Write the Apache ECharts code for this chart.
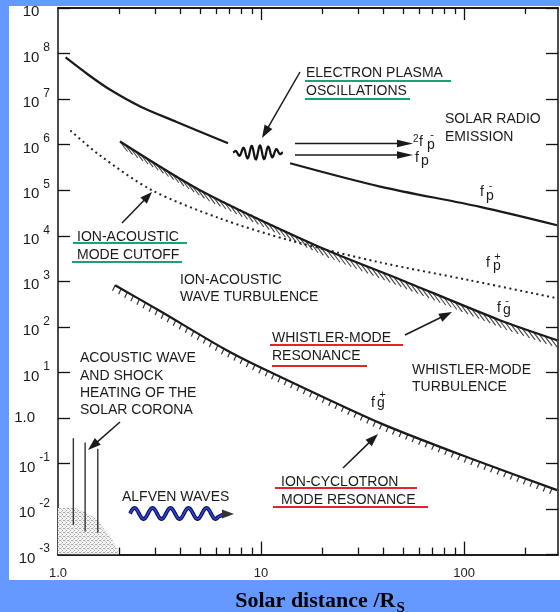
<!DOCTYPE html>
<html><head><meta charset="utf-8">
<script src="https://cdn.jsdelivr.net/npm/echarts@6/dist/echarts.min.js"></script>
<style>html,body{margin:0;padding:0;background:#6699ff;}#c{width:560px;height:612px;}</style>
</head><body><div id="c"></div>
<script>
// ---------- data ----------
const xTickValues = [1, 10, 100];
const xMajorTicks = [10, 100];
const xMinorTicks = [2, 3, 4, 5, 6, 7, 8, 9, 20, 30, 40, 50, 60, 70, 80, 90, 200];
const yTickValues = [1e-3, 1e-2, 1e-1, 1, 1e1, 1e2, 1e3, 1e4, 1e5, 1e6, 1e7, 1e8, 1e9];
// f_p^- (electron plasma frequency), broken around the wave symbol
const fpMinusNear = [[1.09, 8.2e7], [1.405, 3.47e7], [1.8, 1.62e7], [2.54, 6.9e6], [3.84, 3.15e6], [6.88, 1.07e6]];
const fpMinusFar = [[13.9, 3.9e5], [38.6, 1.2e5], [120, 4.3e4], [287, 1.7e4]];
// f_p^+ (ion-acoustic mode cutoff, dotted)
const fpPlus = [[1.15, 2.05e6], [1.61, 5.8e5], [2.9, 1.0e5], [6.28, 2.4e4], [13.9, 7.9e3], [38.6, 2.6e3], [107, 1.05e3], [287, 424]];
// f_g^- (whistler-mode resonance)
const fgMinus = [[2.02, 1.17e6], [5.0, 1.0e5], [19.5, 5.6e3], [48.4, 1.1e3], [150, 140], [287, 51]];
// f_g^+ (ion-cyclotron resonance)
const fgPlus = [[1.91, 817], [3.18, 223], [6.5, 34], [9.9, 13], [38.6, 0.77], [107, 0.13], [287, 0.026]];
// acoustic-wave spikes: [r, top, bottom]
const acousticSpikes = [[1.19, 0.36, 0.0045], [1.36, 0.29, 0.0032], [1.57, 0.21, 0.003]];
// stippled region near the Sun
const coronaHeating = [[1.0, 0.0105], [1.21, 0.0105], [1.36, 0.0086], [1.52, 0.0064], [1.65, 0.0042], [1.80, 0.0026], [1.93, 0.00155], [2.0, 0.001]];

// ---------- helpers ----------
const FONT = "'Liberation Sans', Arial, sans-serif";
const INK = '#1a1a1a';
const GREEN = '#17a374';
const RED = '#e3242b';

function txt(s, x, y, size, extra) {
  const st = {text: s, fontSize: size || 14, fontFamily: FONT, fill: INK,
    textAlign: 'left', textVerticalAlign: 'middle', align: 'left', verticalAlign: 'middle'};
  if (extra) Object.assign(st, extra);
  return {type: 'text', x: x, y: y, z: 50, style: st};
}
function uline(x1, x2, y, c) {
  return {type: 'line', z: 50, shape: {x1: x1, y1: y, x2: x2, y2: y}, style: {stroke: c, lineWidth: 2}};
}
function arrow(x1, y1, x2, y2, head, w, color) {
  color = color || INK;
  const dx = x2 - x1, dy = y2 - y1, L = Math.hypot(dx, dy), ux = dx / L, uy = dy / L;
  const bx = x2 - ux * head, by = y2 - uy * head;
  return [
    {type: 'line', z: 50, shape: {x1: x1, y1: y1, x2: bx + ux, y2: by + uy}, style: {stroke: color, lineWidth: 1.5}},
    {type: 'polygon', z: 50, shape: {points: [[x2, y2], [bx - uy * w, by + ux * w], [bx + uy * w, by - ux * w]]}, style: {fill: color}}
  ];
}
function hatch(curve, spacing, dx, dy, width, color) {
  return function (params, api) {
    if (params.dataIndex !== 0) return null;
    const pts = curve.map(p => api.coord(p));
    const children = [];
    let carry = 0;
    for (let i = 0; i < pts.length - 1; i++) {
      const x0 = pts[i][0], y0 = pts[i][1], x1 = pts[i + 1][0], y1 = pts[i + 1][1];
      const seg = Math.hypot(x1 - x0, y1 - y0);
      let s = carry;
      while (s < seg) {
        const t = s / seg, x = x0 + (x1 - x0) * t, y = y0 + (y1 - y0) * t;
        children.push({type: 'line', shape: {x1: x, y1: y, x2: x + dx, y2: y + dy}, style: {stroke: color, lineWidth: width}});
        s += spacing;
      }
      carry = s - seg;
    }
    return {type: 'group', children: children};
  };
}
function spike(params, api) {
  const a = api.coord([api.value(0), api.value(1)]);
  const b = api.coord([api.value(0), api.value(2)]);
  return {type: 'line', shape: {x1: a[0], y1: a[1], x2: b[0], y2: b[1]}, style: {stroke: '#333', lineWidth: 1.4}};
}
function fLabel(fx, fy, sub, sx, sy, sup, ux, uy) {
  const out = [txt('f', fx, fy, 14), txt(sub, sx, sy, 14)];
  if (sup) out.push(txt(sup, ux, uy, 11, {textAlign: 'center', align: 'center'}));
  return out;
}
function wavePacket() {
  const pts = [];
  for (let x = 233; x <= 283; x += 0.5) {
    const t = (x - 233) / 50;
    const env = Math.pow(Math.sin(Math.PI * t), 0.8);
    pts.push([x, 152.5 - 7 * env * Math.sin(2 * Math.PI * (x - 233) / 8.3)]);
  }
  return pts;
}
function alfven() {
  const pts = [];
  for (let x = 130; x <= 218; x += 0.5) pts.push([x, 513.5 - 5.5 * Math.sin(2 * Math.PI * (x - 130) / 18)]);
  pts.push([224, 514]);
  return pts;
}

// stipple pattern
const pat = document.createElement('canvas');
pat.width = 4; pat.height = 4;
const pg = pat.getContext('2d');
pg.fillStyle = '#f3f3f3'; pg.fillRect(0, 0, 4, 4);
pg.fillStyle = '#a6a6a6';
pg.fillRect(0, 0, 1, 1); pg.fillRect(2, 2, 1, 1); pg.fillRect(3, 0, 1, 1);
pg.fillStyle = '#cfcfcf';
pg.fillRect(1, 3, 1, 1); pg.fillRect(1, 1, 1, 1);

// ---------- chart ----------
const chart = echarts.init(document.getElementById('c'), null, {renderer: 'canvas', width: 560, height: 612});
const axLine = {show: true, onZero: false, lineStyle: {color: '#111', width: 1.5}};
const xBase = {type: 'log', logBase: 10, min: 1, max: 290, splitLine: {show: false}, axisLine: axLine};
const yBase = {type: 'log', logBase: 10, min: 1e-3, max: 1e9, splitLine: {show: false}, axisLine: axLine};
const tickStyle = {color: '#111', width: 1.3};

const graphics = [
  {type: 'rect', z: -100, shape: {x: 9, y: 6, width: 551, height: 574}, style: {fill: '#ffffff'}},
  {type: 'rect', z: 100, shape: {x: 0, y: 0, width: 560, height: 6}, style: {fill: '#6699ff'}},
  // texts
  txt('ELECTRON PLASMA', 306, 73), txt('OSCILLATIONS', 306, 91),
  txt('SOLAR RADIO', 445, 119), txt('EMISSION', 445, 137),
  txt('ION-ACOUSTIC', 77, 237), txt('MODE CUTOFF', 77, 255),
  txt('ION-ACOUSTIC', 180, 280), txt('WAVE TURBULENCE', 180, 297),
  txt('WHISTLER-MODE', 272, 338), txt('RESONANCE', 272, 356),
  txt('WHISTLER-MODE', 412, 370), txt('TURBULENCE', 412, 387),
  txt('ION-CYCLOTRON', 281, 482), txt('MODE RESONANCE', 281, 500),
  txt('ACOUSTIC WAVE', 80, 358), txt('AND SHOCK', 80, 376), txt('HEATING OF THE', 80, 393), txt('SOLAR CORONA', 80, 410),
  txt('ALFVEN WAVES', 122, 497),
  // underlines
  uline(305, 451, 81, GREEN), uline(305, 410, 99, GREEN),
  uline(73, 187, 243, GREEN), uline(72, 182, 262, GREEN),
  uline(270, 403, 345, RED), uline(272, 367, 366, RED),
  uline(275, 417, 488, RED), uline(273, 428, 507, RED),
  // wave symbols
  {type: 'polyline', z: 50, shape: {points: wavePacket()}, style: {stroke: '#111', lineWidth: 2.2, fill: null}},
  {type: 'polyline', z: 50, shape: {points: alfven()}, style: {stroke: '#0b0b3a', lineWidth: 3.8, fill: null}},
  {type: 'polyline', z: 51, shape: {points: alfven()}, style: {stroke: '#2b45ff', lineWidth: 1.6, fill: null}},
  {type: 'polygon', z: 51, shape: {points: [[222, 509.5], [222, 518.5], [234, 514]]}, style: {fill: '#333'}},
  // axis title
  {type: 'text', x: 320, y: 590, z: 50, style: {
    text: '{a|Solar distance /R}{b|S}', textAlign: 'center', align: 'center', fill: '#000',
    rich: {a: {fontSize: 22, fontWeight: 'bold', fontFamily: "'Liberation Serif', 'Times New Roman', serif", fill: '#000', lineHeight: 22, verticalAlign: 'top'},
           b: {fontSize: 15, fontWeight: 'bold', fontFamily: "'Liberation Serif', 'Times New Roman', serif", fill: '#000', padding: [11, 0, 0, 1], verticalAlign: 'top'}}
  }}
]
  .concat(arrow(300, 72, 262, 138, 13, 4.5))
  .concat(arrow(295, 143.5, 413, 143.5, 16, 3.8))
  .concat(arrow(295, 155, 413, 155, 16, 3.8))
  .concat(arrow(122, 223, 152, 192, 12, 4.5))
  .concat(arrow(405, 335, 452, 312, 13, 4.5))
  .concat(arrow(343, 468, 378, 434, 13, 4.5))
  .concat(arrow(120, 422, 88, 450, 13, 4.5))
  .concat([txt('2', 413, 139.5, 10)])
  .concat(fLabel(419, 142, 'p', 427, 145, '-', 432, 135))
  .concat(fLabel(415, 158, 'p', 421, 161))
  .concat(fLabel(480, 192, 'p', 486, 196, '-', 490.5, 186))
  .concat(fLabel(486, 263, 'p', 493, 266, '+', 497.5, 257))
  .concat(fLabel(497, 308, 'g', 503, 310, '-', 507, 301))
  .concat(fLabel(371, 403, 'g', 377, 403, '+', 382.5, 395));

const option = {
  backgroundColor: '#6699ff',
  animation: false,
  grid: {left: 58, top: 8, right: 2, bottom: 57.4, containLabel: false, outerBoundsMode: 'none'},
  xAxis: [
    Object.assign({}, xBase, {position: 'bottom',
      axisTick: {show: true, inside: true, length: 13, lineStyle: tickStyle, customValues: xMajorTicks},
      axisLabel: {show: true, customValues: xTickValues, margin: 12, fontSize: 13, fontFamily: FONT, color: '#222',
        formatter: function (v) { return Math.abs(v - 1) < 1e-9 ? '1.0' : String(Math.round(v)); }}}),
    Object.assign({}, xBase, {position: 'bottom',
      axisTick: {show: true, inside: true, length: 7, lineStyle: tickStyle, customValues: xMinorTicks},
      axisLabel: {show: false}}),
    Object.assign({}, xBase, {position: 'top',
      axisTick: {show: true, inside: true, length: 12, lineStyle: tickStyle, customValues: xMajorTicks},
      axisLabel: {show: false}}),
    Object.assign({}, xBase, {position: 'top',
      axisTick: {show: true, inside: true, length: 6, lineStyle: tickStyle, customValues: xMinorTicks},
      axisLabel: {show: false}})
  ],
  yAxis: [
    Object.assign({}, yBase, {position: 'left',
      axisTick: {show: true, inside: true, length: 12, lineStyle: tickStyle, customValues: yTickValues},
      axisLabel: {show: true, customValues: yTickValues, margin: 8,
        formatter: function (v) {
          const e = Math.round(Math.log10(v));
          return e === 0 ? '{one|1.0}' : '{b|10}{s|' + e + '}';
        },
        rich: {
          b: {fontSize: 15, fontFamily: FONT, color: INK, padding: [8, 0, 0, 0], verticalAlign: 'bottom'},
          s: {fontSize: 12, fontFamily: FONT, color: INK, padding: [0, 0, 0, 4], verticalAlign: 'top'},
          one: {fontSize: 15, fontFamily: FONT, color: INK, padding: [0, 15, 0, 0]}
        }}}),
    Object.assign({}, yBase, {position: 'right',
      axisTick: {show: true, inside: true, length: 12, lineStyle: tickStyle, customValues: yTickValues},
      axisLabel: {show: false}})
  ],
  graphic: {elements: graphics},
  series: [
    {type: 'line', data: coronaHeating, symbol: 'none', silent: true, z: 1,
      lineStyle: {width: 0}, areaStyle: {color: {image: pat, repeat: 'repeat'}, opacity: 1, origin: 'start'}},
    {type: 'line', data: fpMinusNear, symbol: 'none', smooth: 0.3, lineStyle: {color: INK, width: 2.2}},
    {type: 'line', data: fpMinusFar, symbol: 'none', smooth: 0.3, lineStyle: {color: INK, width: 2.2}},
    {type: 'line', data: fpPlus, symbol: 'none', smooth: 0.3, lineStyle: {color: '#222', width: 2, type: [2, 3.5]}},
    {type: 'line', data: fgMinus, symbol: 'none', smooth: 0.25, lineStyle: {color: INK, width: 2.2}},
    {type: 'line', data: fgPlus, symbol: 'none', smooth: 0.25, lineStyle: {color: INK, width: 2.2}},
    {type: 'custom', data: fgMinus, encode: {x: 0, y: 1}, clip: true, renderItem: hatch(fgMinus, 6, 7.5, 10, 1.1, '#444')},
    {type: 'custom', data: fgPlus, encode: {x: 0, y: 1}, clip: true, renderItem: hatch(fgPlus, 7, -2.5, 5.5, 1.2, '#333')},
    {type: 'custom', data: acousticSpikes, encode: {x: 0, y: [1, 2]}, renderItem: spike}
  ]
};
chart.setOption(option);
</script>
</body></html>
